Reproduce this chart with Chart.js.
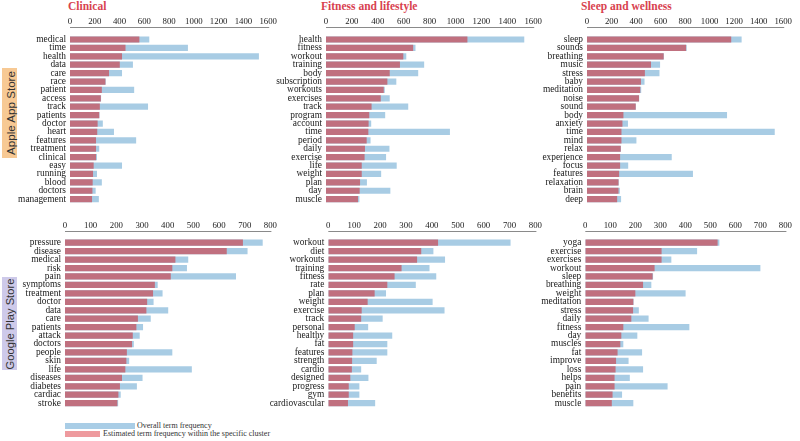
<!DOCTYPE html>
<html>
<head>
<meta charset="utf-8">
<script src="https://cdn.jsdelivr.net/npm/chart.js@4.4.0/dist/chart.umd.min.js"></script>
<style>
  body { margin: 0; background: #fff; }
  #page { position: relative; width: 800px; height: 441px; overflow: hidden; }
  canvas { position: absolute; }
  .title { position: absolute; top: 0px; font: bold 11.5px "Liberation Serif", serif; color: #d8424f; white-space: nowrap; }
  .store { position: absolute; left: 2px; width: 15px; }
  .store span { position: absolute; left: 50%; top: 50%; transform: translate(-50%, -50%) rotate(-90deg);
    font: 11.6px "Liberation Sans", Arial, sans-serif; color: #333; white-space: nowrap; }
  .legend-box { position: absolute; left: 65px; height: 6px; }
  .legend-text { position: absolute; font: 8px "Liberation Serif", serif; color: #333; white-space: nowrap; line-height: 8px; }
</style>
</head>
<body>
<div id="page">
  <div class="title" style="left:68px">Clinical</div>
  <div class="title" style="left:321px">Fitness and lifestyle</div>
  <div class="title" style="left:581px">Sleep and wellness</div>
  <div class="store" style="top:68px;height:90px;background:#f7c994"><span>Apple App Store</span></div>
  <div class="store" style="top:277px;height:93px;background:#cecaea"><span style="font-size:11.2px">Google Play Store</span></div>
  <div class="legend-box" style="top:423px;width:70px;background:#a9cde6"></div>
  <div class="legend-text" style="left:137px;top:422px">Overall term frequency</div>
  <div class="legend-box" style="top:431px;width:35px;background:#ee9a9e"></div>
  <div class="legend-text" style="left:103px;top:430px">Estimated term frequency within the specific cluster</div>
</div>
<script>
// Clinical - Apple App Store
const clinicalAppleTerms = ['medical','time','health','data','care','race','patient','access','track','patients','doctor','heart','features','treatment','clinical','easy','running','blood','doctors','management'];
const clinicalAppleCluster = [560,448,420,402,315,286,257,249,241,236,223,220,210,210,210,191,186,183,181,178];
const clinicalAppleOverall = [640,952,1525,508,420,288,518,251,630,238,265,355,534,236,218,420,218,257,207,233];

// Clinical - Google Play Store
const clinicalGoogleTerms = ['pressure','disease','medical','risk','pain','symptoms','treatment','doctor','data','care','patients','attack','doctors','people','skin','life','diseases','diabetes','cardiac','stroke'];
const clinicalGoogleCluster = [693,630,430,418,412,350,343,320,317,284,278,264,261,241,239,235,222,214,208,204];
const clinicalGoogleOverall = [770,711,480,475,666,361,380,345,402,334,304,291,268,418,250,494,302,280,217,207];

// Fitness and lifestyle - Apple App Store
const fitnessAppleTerms = ['health','fitness','workout','training','body','subscription','workouts','exercises','track','program','account','time','period','daily','exercise','life','weight','plan','day','muscle'];
const fitnessAppleCluster = [1092,673,597,571,492,474,446,423,352,334,329,327,314,301,298,276,276,263,260,247];
const fitnessAppleOverall = [1531,691,620,758,712,543,454,492,635,457,349,957,344,490,464,546,426,316,497,258];

// Fitness and lifestyle - Google Play Store
const fitnessGoogleTerms = ['workout','diet','workouts','training','fitness','rate','plan','weight','exercise','track','personal','healthy','fat','features','strength','cardio','designed','progress','gym','cardiovascular'];
const fitnessGoogleCluster = [424,359,343,283,256,228,179,152,129,127,102,96,96,93,92,91,85,79,79,76];
const fitnessGoogleOverall = [704,406,451,391,417,338,223,403,449,210,154,247,228,228,187,127,155,120,120,181];

// Sleep and wellness - Apple App Store
const sleepAppleTerms = ['sleep','sounds','breathing','music','stress','baby','meditation','noise','sound','body','anxiety','time','mind','relax','experience','focus','features','relaxation','brain','deep'];
const sleepAppleCluster = [1176,808,625,522,472,440,434,424,397,297,289,281,281,275,270,270,262,257,257,246];
const sleepAppleOverall = [1261,813,627,596,591,469,442,426,399,1142,334,1531,403,277,691,336,864,259,268,278];

// Sleep and wellness - Google Play Store
const sleepGoogleTerms = ['yoga','exercise','exercises','workout','sleep','breathing','weight','meditation','stress','daily','fitness','day','muscles','fat','improve','loss','helps','pain','benefits','muscle'];
const sleepGoogleCluster = [529,305,305,277,269,231,200,192,191,184,152,144,140,129,123,121,117,117,109,106];
const sleepGoogleOverall = [536,447,344,700,271,264,401,193,214,253,416,208,152,227,173,231,178,329,147,192];

const appleMax = 1600, appleStep = 200;
const googleMax = 800, googleStep = 100;

const clusterColor = 'rgb(192,112,127)';
const overallColor = 'rgb(168,204,228)';
const serif = '"Liberation Serif", "Times New Roman", serif';

// draws the thin axis line sitting a bit above the bars
const axisLinePlugin = {
  id: 'axisLine',
  afterDraw(chart, args, opts) {
    let x = chart.scales.x;
    let ctx = chart.ctx;
    ctx.save();
    ctx.strokeStyle = '#8a8a8a';
    ctx.lineWidth = 1;
    ctx.beginPath();
    ctx.moveTo(x.left, chart.chartArea.top - opts.gap);
    ctx.lineTo(x.right + 1, chart.chartArea.top - opts.gap);
    ctx.stroke();
    ctx.restore();
  }
};

function add_panel(p){
  let canvas = document.createElement('canvas');
  canvas.width = p.w;
  canvas.height = p.h;
  canvas.style.left = p.left + 'px';
  canvas.style.top = p.top + 'px';
  document.getElementById('page').appendChild(canvas);

  new Chart(canvas, {
    type: 'bar',
    data: {
      labels: p.terms,
      datasets: [
        { label: 'Estimated term frequency within the specific cluster', data: p.cluster, backgroundColor: clusterColor },
        { label: 'Overall term frequency', data: p.overall, backgroundColor: overallColor }
      ]
    },
    options: {
      indexAxis: 'y',
      responsive: false,
      animation: false,
      devicePixelRatio: 1,
      layout: { padding: { left: 0, top: 0, right: p.padRight, bottom: p.padBottom } },
      datasets: { bar: { categoryPercentage: 1, barPercentage: 0.74 } },
      plugins: {
        legend: { display: false },
        tooltip: { enabled: false },
        axisLine: { gap: p.lineGap }
      },
      scales: {
        x: {
          position: 'top',
          min: 0,
          max: p.max,
          stacked: false,
          grid: { display: false, drawTicks: false },
          border: { display: false },
          ticks: { stepSize: p.step, padding: 8, maxRotation: 0, autoSkip: false,
                   callback: v => String(v),
                   color: '#222', font: { family: serif, size: 8.8 } },
          afterFit: s => { s.height = p.axisH; }
        },
        y: {
          stacked: true,
          grid: { display: false, drawTicks: false },
          border: { display: false },
          ticks: { padding: 4, autoSkip: false, color: '#1a1a1a', font: { family: serif, size: 9.4 } },
          afterFit: s => { s.width = p.yW; }
        }
      }
    },
    plugins: [axisLinePlugin]
  });
}

function init(){
  // top row: Apple App Store
  add_panel({ terms: clinicalAppleTerms, cluster: clinicalAppleCluster, overall: clinicalAppleOverall,
    max: appleMax, step: appleStep, left: 0, top: 0, w: 285, h: 213, yW: 70, padRight: 13.5, padBottom: 0.3, axisH: 35.3, lineGap: 7.8 });
  add_panel({ terms: fitnessAppleTerms, cluster: fitnessAppleCluster, overall: fitnessAppleOverall,
    max: appleMax, step: appleStep, left: 265, top: 0, w: 285, h: 213, yW: 61, padRight: 15, padBottom: 0.3, axisH: 35.3, lineGap: 7.8 });
  add_panel({ terms: sleepAppleTerms, cluster: sleepAppleCluster, overall: sleepAppleOverall,
    max: appleMax, step: appleStep, left: 525, top: 0, w: 275, h: 213, yW: 62, padRight: 11.7, padBottom: 0.3, axisH: 35.3, lineGap: 7.8 });

  // bottom row: Google Play Store
  add_panel({ terms: clinicalGoogleTerms, cluster: clinicalGoogleCluster, overall: clinicalGoogleOverall,
    max: googleMax, step: googleStep, left: 0, top: 213, w: 285, h: 204, yW: 65, padRight: 12, padBottom: 1.5, axisH: 25.5, lineGap: 7 });
  add_panel({ terms: fitnessGoogleTerms, cluster: fitnessGoogleCluster, overall: fitnessGoogleOverall,
    max: googleMax, step: googleStep, left: 265, top: 213, w: 285, h: 204, yW: 63.3, padRight: 13.3, padBottom: 1.5, axisH: 25.5, lineGap: 7 });
  add_panel({ terms: sleepGoogleTerms, cluster: sleepGoogleCluster, overall: sleepGoogleOverall,
    max: googleMax, step: googleStep, left: 525, top: 213, w: 275, h: 204, yW: 60.3, padRight: 9.3, padBottom: 1.5, axisH: 25.5, lineGap: 7 });
}

init();
</script>
</body>
</html>
